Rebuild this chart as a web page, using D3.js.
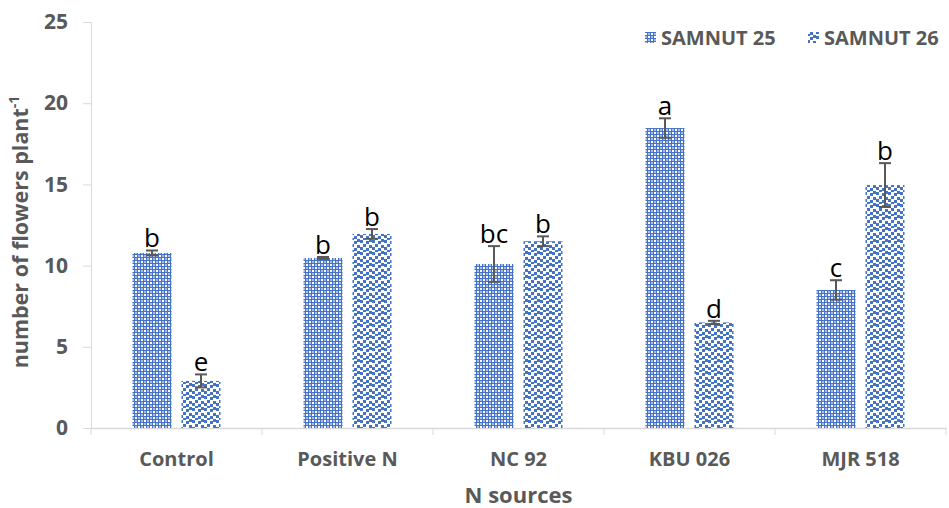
<!DOCTYPE html>
<html><head><meta charset="utf-8">
<script src="https://cdn.jsdelivr.net/npm/d3@7"></script>
<style>body{margin:0;background:#fff}svg{display:block}</style>
</head><body>
<svg id="c" width="949" height="508"></svg>
<script>
const categories = ["Control","Positive N","NC 92","KBU 026","MJR 518"];
const seriesNames = ["SAMNUT 25","SAMNUT 26"];
const samnut25 = [10.78, 10.47, 10.1, 18.47, 8.5];
const samnut26 = [2.9, 11.95, 11.5, 6.5, 14.96];
const err25 = [0.15, 0.06, 1.1, 0.6, 0.6];
const err26 = [0.4, 0.3, 0.3, 0.1, 1.35];
const letters25 = ["b","b","bc","a","c"];
const letters26 = ["e","b","b","d","b"];
const yTicks = [0,5,10,15,20,25];

const svg = d3.select("#c");
const m = {l:91, r:946, t:22, b:428};
const font = "'Open Sans', sans-serif";
const grey = "#595959", blue = "#4472C4";

const defs = svg.append("defs");
// pattern 25: fine checker
const p1 = defs.append("pattern").attr("id","p25").attr("patternUnits","userSpaceOnUse").attr("width",6).attr("height",6);
p1.append("rect").attr("width",6).attr("height",6).attr("fill",blue);
p1.append("rect").attr("x",0).attr("y",0).attr("width",2).attr("height",2).attr("fill","#ffffff");
p1.append("rect").attr("x",3).attr("y",3).attr("width",2).attr("height",2).attr("fill","#ffffff");
p1.append("rect").attr("x",3).attr("y",0).attr("width",2).attr("height",2).attr("fill","#a9bde6");
p1.append("rect").attr("x",0).attr("y",3).attr("width",2).attr("height",2).attr("fill","#a9bde6");
// pattern 26: large confetti
const p2 = defs.append("pattern").attr("id","p26").attr("patternUnits","userSpaceOnUse").attr("width",12).attr("height",12);
p2.append("rect").attr("width",12).attr("height",12).attr("fill","#ffffff");
[[0,0],[6,1],[3,4],[9,5],[0,7],[6,8],[3,10],[9,11],[9,-1]].forEach(([x,y])=>{
  p2.append("rect").attr("x",x).attr("y",y).attr("width",3).attr("height",3).attr("fill",blue);
});
const fills = ["url(#p25)","url(#p26)"];

const x = d3.scaleBand().domain(categories).range([m.l,m.r]);
const xs = d3.scaleBand().domain(seriesNames).range([41.5, x.bandwidth()-41.5]).paddingInner(0.204).paddingOuter(0);
const y = d3.scaleLinear().domain([0,25]).range([m.b,m.t]);

// y axis
const ya = svg.append("g").attr("transform",`translate(${m.l},0)`)
  .call(d3.axisLeft(y).tickValues(yTicks).tickSize(8).tickPadding(15));
ya.select(".domain").attr("stroke","#d9d9d9");
ya.selectAll(".tick line").attr("stroke","#d9d9d9");
ya.selectAll("text").attr("font-family",font).attr("font-weight","bold").attr("font-size",21).attr("fill",grey);

// x axis
const xa = svg.append("g").attr("transform",`translate(0,${m.b})`)
  .call(d3.axisBottom(x).tickSize(0).tickPadding(24));
xa.select(".domain").attr("stroke","#d9d9d9").attr("stroke-width",1.5);
xa.selectAll("text").attr("font-family",font).attr("font-weight","bold").attr("font-size",20).attr("fill",grey);
const bounds = categories.map(c=>x(c)).concat([m.r]);
svg.append("g").selectAll("line").data(bounds).join("line")
  .attr("x1",d=>d).attr("x2",d=>d).attr("y1",m.b).attr("y2",m.b+7).attr("stroke","#d9d9d9");

const data = [samnut25, samnut26];
const errs = [err25, err26];
const lets = [letters25, letters26];
data.forEach((vals,si)=>{
  const g = svg.append("g");
  g.selectAll("rect").data(categories).join("rect")
    .attr("x",c=>x(c)+xs(seriesNames[si]))
    .attr("width",xs.bandwidth())
    .attr("y",(c,i)=>y(vals[i]))
    .attr("height",(c,i)=>y(0)-y(vals[i]))
    .attr("fill",fills[si]);
  categories.forEach((c,i)=>{
    const cx = x(c)+xs(seriesNames[si])+xs.bandwidth()/2;
    const hi = y(vals[i]+errs[si][i]), lo = y(vals[i]-errs[si][i]);
    g.append("line").attr("x1",cx).attr("x2",cx).attr("y1",hi).attr("y2",lo).attr("stroke",grey).attr("stroke-width",2);
    [hi,lo].forEach(yy=>g.append("line").attr("x1",cx-6).attr("x2",cx+6).attr("y1",yy).attr("y2",yy).attr("stroke",grey).attr("stroke-width",2));
    g.append("text").attr("x",cx).attr("y",hi-3).attr("text-anchor","middle")
      .attr("font-family",font).attr("font-size",26).attr("fill","#000").text(lets[si][i]);
  });
});

// axis titles
svg.append("text").attr("x",(m.l+m.r)/2).attr("y",503).attr("text-anchor","middle")
  .attr("font-family",font).attr("font-weight","bold").attr("font-size",22).attr("fill",grey).text("N sources");
const yt = svg.append("text").attr("transform",`translate(28,232) rotate(-90)`).attr("text-anchor","middle")
  .attr("font-family",font).attr("font-weight","bold").attr("font-size",21.5).attr("fill",grey);
yt.append("tspan").text("number of flowers plant");
yt.append("tspan").attr("dy",-9).attr("font-size",14).text("-1");

// legend
const legX = [645, 808];
seriesNames.forEach((n,i)=>{
  svg.append("rect").attr("x",legX[i]).attr("y",32).attr("width",11).attr("height",11).attr("fill",fills[i]);
  svg.append("text").attr("x",legX[i]+16).attr("y",45).attr("font-family",font).attr("font-weight","bold")
    .attr("font-size",20).attr("fill",grey).text(n);
});
</script>
</body></html>
